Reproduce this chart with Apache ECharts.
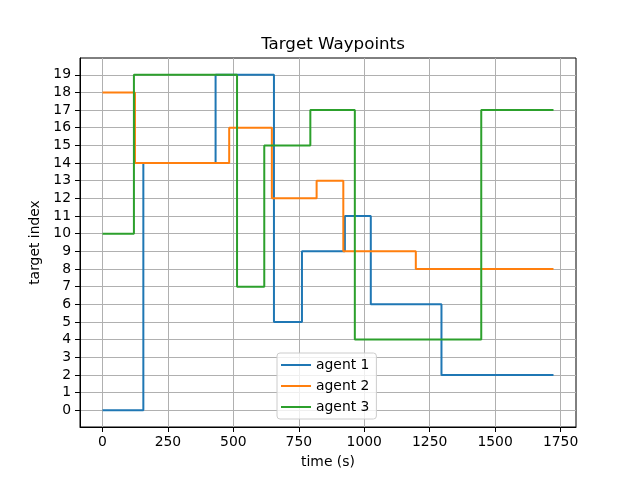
<!DOCTYPE html>
<html>
<head>
<meta charset="utf-8">
<script src="https://cdn.jsdelivr.net/npm/echarts@6/dist/echarts.min.js"></script>
<style>
    html, body { margin: 0; padding: 0; background: #fff; }
    #chart { width: 640px; height: 480px; }
</style>
</head>
<body>
<div id="chart"></div>
<script>
    // waypoint switch times (s) and target index for each agent
    var agent1Times = [0, 156, 432, 655, 762, 926, 1025, 1295, 1723];
    var agent1Targets = [0, 14, 19, 5, 9, 11, 6, 2, 2];
    var agent2Times = [0, 124, 484, 647, 818, 920, 1197, 1723];
    var agent2Targets = [18, 14, 16, 12, 13, 9, 8, 8];
    var agent3Times = [0, 120, 514, 618, 794, 964, 1447, 1723];
    var agent3Targets = [10, 19, 7, 15, 17, 4, 17, 17];

    var xTicks = [0, 250, 500, 750, 1000, 1250, 1500, 1750];
    var yTicks = [0, 1, 2, 3, 4, 5, 6, 7, 8, 9, 10, 11, 12, 13, 14, 15, 16, 17, 18, 19];

    var agentNames = ['agent 1', 'agent 2', 'agent 3'];
    var colors = ['#1f77b4', '#ff7f0e', '#2ca02c'];

    function pairs(xs, ys) {
        var out = [];
        for (var i = 0; i < xs.length; i++) out.push([xs[i], ys[i]]);
        return out;
    }

    var font = 'DejaVu Sans';
    var seriesData = [
        pairs(agent1Times, agent1Targets),
        pairs(agent2Times, agent2Targets),
        pairs(agent3Times, agent3Targets)
    ];

    var chart = echarts.init(document.getElementById('chart'), null, { renderer: 'canvas' });
    chart.setOption({
        animation: false,
        color: colors,
        title: {
            text: 'Target Waypoints',
            left: 328,
            top: 31,
            textAlign: 'center',
            textStyle: { fontFamily: font, fontSize: 16.7, fontWeight: 'normal', color: '#000' }
        },
        legend: {
            data: agentNames,
            orient: 'vertical',
            left: 277,
            top: 353,
            padding: [5, 7, 5, 4],
            itemGap: 7,
            itemWidth: 30,
            itemHeight: 2,
            icon: 'rect',
            backgroundColor: 'rgba(255,255,255,0.8)',
            borderColor: '#cccccc',
            borderWidth: 1,
            borderRadius: 3,
            textStyle: { fontFamily: font, fontSize: 13.9, color: '#000' }
        },
        grid: {
            left: 80,
            right: 64,
            top: 58,
            bottom: 53,
            show: true,
            borderColor: '#000',
            borderWidth: 1
        },
        xAxis: {
            type: 'value',
            min: -86,
            max: 1809,
            name: 'time (s)',
            nameLocation: 'middle',
            nameGap: 28,
            nameTextStyle: { fontFamily: font, fontSize: 13.9, color: '#000' },
            axisLine: { show: true, onZero: false, lineStyle: { color: '#000', width: 1 } },
            axisTick: { show: true, length: 5, lineStyle: { color: '#000' }, customValues: xTicks },
            axisLabel: {
                fontFamily: font, fontSize: 13.9, color: '#000', margin: 8, customValues: xTicks,
                formatter: function (v) { return String(v); }
            },
            splitLine: { show: true, lineStyle: { color: '#b0b0b0', width: 1 } }
        },
        yAxis: {
            type: 'value',
            min: -0.95,
            max: 19.95,
            name: 'target index',
            nameLocation: 'middle',
            nameGap: 35,
            nameTextStyle: { fontFamily: font, fontSize: 13.9, color: '#000' },
            axisLine: { show: true, onZero: false, lineStyle: { color: '#000', width: 1 } },
            axisTick: { show: true, length: 5, lineStyle: { color: '#000' }, customValues: yTicks },
            axisLabel: { fontFamily: font, fontSize: 13.9, color: '#000', margin: 9, customValues: yTicks },
            splitLine: { show: true, lineStyle: { color: '#b0b0b0', width: 1 } }
        },
        series: agentNames.map(function (name, i) {
            return {
                name: name,
                type: 'line',
                step: 'end',
                showSymbol: false,
                symbol: 'none',
                lineStyle: { width: 2, color: colors[i] },
                data: seriesData[i]
            };
        })
    });
</script>
</body>
</html>
